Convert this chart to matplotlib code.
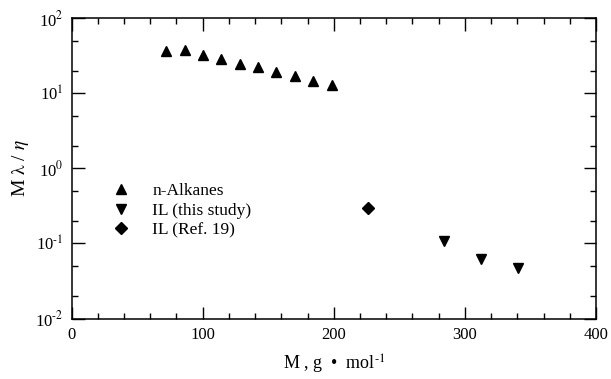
import matplotlib
matplotlib.use("Agg")
import numpy as np
import matplotlib.pyplot as plt
from matplotlib.ticker import LogLocator, MultipleLocator, FuncFormatter

plt.rcParams['font.family'] = ['Liberation Serif', 'DejaVu Serif']
plt.rcParams['mathtext.fontset'] = 'stix'

# n-Alkanes
alk_M = [72.15, 86.18, 100.20, 114.23, 128.26, 142.28, 156.31, 170.33, 184.36, 198.39]
alk_y = [36.2, 37.3, 32.4, 28.7, 24.6, 22.5, 19.3, 17.2, 14.8, 12.9]
# IL (this study)
il_M = [284.2, 312.2, 340.3]
il_y = [0.108, 0.063, 0.0465]
# IL (Ref. 19)
ref_M = [226.0]
ref_y = [0.294]

series_labels = ['n-Alkanes', 'IL (this study)', 'IL (Ref. 19)']

W, H = 611, 379
fig = plt.figure(figsize=(W / 100, H / 100), dpi=100)
L, R, T, B = 71.5, 596.0, 18.3, 318.5
ax = fig.add_axes([L / W, (H - B) / H, (R - L) / W, (B - T) / H])

ax.plot(alk_M, alk_y, linestyle='none', marker='^', color='black', markersize=7.2, label=series_labels[0])
ax.plot(il_M, il_y, linestyle='none', marker='v', color='black', markersize=7.2, label=series_labels[1])
ax.plot(ref_M, ref_y, linestyle='none', marker='D', color='black', markersize=6.3, label=series_labels[2])

ax.set_yscale('log')
ax.set_xlim(0, 400)
ax.set_ylim(1e-2, 1e2)
ax.xaxis.set_major_locator(MultipleLocator(100))
ax.xaxis.set_minor_locator(MultipleLocator(20))
ax.yaxis.set_major_locator(LogLocator(base=10, numticks=10))
ax.yaxis.set_minor_locator(LogLocator(base=10, subs=(2.0, 5.0), numticks=10))


def log_fmt(v, pos):
    e = int(round(np.log10(v)))
    return '10$^{\\text{%d}}$' % e


ax.yaxis.set_major_formatter(FuncFormatter(log_fmt))

for s in ax.spines.values():
    s.set_linewidth(1.1)
ax.tick_params(which='both', direction='in', top=True, right=True, width=1.0, labelsize=12)
ax.tick_params(which='major', length=9, pad=6)
ax.tick_params(which='minor', length=4.5)

ax.set_xlabel('M , g  \u2022  mol$^{\\text{-1}}$', fontsize=13, labelpad=7)
ax.set_ylabel(r'M $\mathrm{\lambda}$ / $\eta$', fontsize=14, labelpad=3)

leg = ax.legend(loc='upper left', bbox_to_anchor=(0.0778, 0.452), frameon=False,
                fontsize=12.5, handlelength=1.0, handletextpad=1.3, labelspacing=0.2,
                borderpad=0, borderaxespad=0, numpoints=1)

fig.savefig('out.png', dpi=100)
